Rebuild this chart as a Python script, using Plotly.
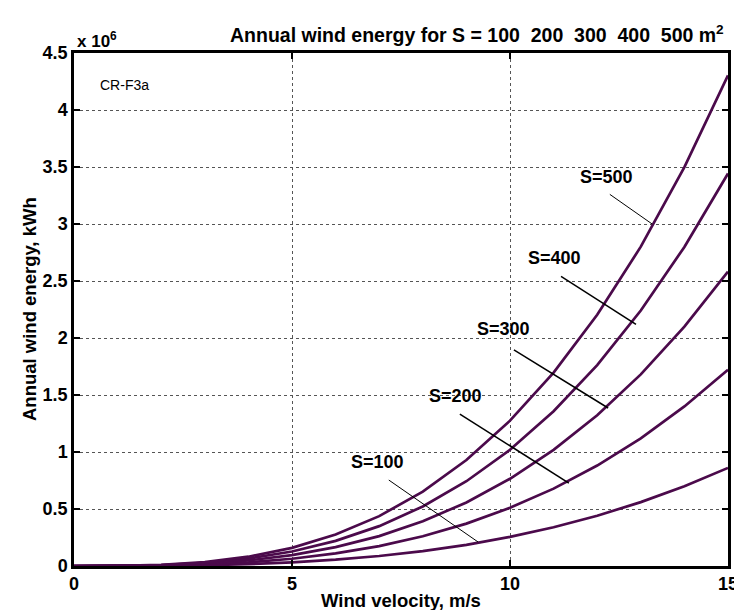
import plotly.graph_objects as go

velocity = list(range(0, 16))
areas = [100, 200, 300, 400, 500]
energy_S100 = [0, 255, 2040, 6885, 16320, 31875, 55080, 87465, 130560, 185895, 255000, 339405, 440640, 560235, 699720, 860625]
energy_S200 = [0, 510, 4080, 13770, 32640, 63750, 110160, 174930, 261120, 371790, 510000, 678810, 881280, 1120470, 1399440, 1721250]
energy_S300 = [0, 765, 6120, 20655, 48960, 95625, 165240, 262395, 391680, 557685, 765000, 1018215, 1321920, 1680705, 2099160, 2581875]
energy_S400 = [0, 1020, 8160, 27540, 65280, 127500, 220320, 349860, 522240, 743580, 1020000, 1357620, 1762560, 2240940, 2798880, 3442500]
energy_S500 = [0, 1275, 10200, 34425, 81600, 159375, 275400, 437325, 652800, 929475, 1275000, 1697025, 2203200, 2801175, 3498600, 4303125]
series = [energy_S100, energy_S200, energy_S300, energy_S400, energy_S500]

x_ticks = [0, 5, 10, 15]
y_tickvals = [0, 500000, 1000000, 1500000, 2000000, 2500000, 3000000, 3500000, 4000000, 4500000]
y_ticktext = ["0", "0.5", "1", "1.5", "2", "2.5", "3", "3.5", "4", "4.5"]

LINE = "#4B0A4B"
FONT = "Liberation Sans, Arial, Helvetica, sans-serif"

fig = go.Figure()
for s, vals in zip(areas, series):
    fig.add_trace(go.Scatter(x=velocity, y=vals, mode="lines", name=f"S={s}",
                             line=dict(color=LINE, width=2.7), showlegend=False))

# label text positions (data coords) and leader lines
labels = [
    ("S=100", 6.95, 912000, (7.22, 754000), (9.27, 210000), 1.0),
    ("S=200", 8.74, 1490000, (8.85, 1333000), (11.35, 728000), 1.5),
    ("S=300", 9.84, 2080000, (10.09, 1895000), (12.25, 1386000), 1.5),
    ("S=400", 11.01, 2700000, (11.17, 2540000), (12.89, 2120000), 1.5),
    ("S=500", 12.22, 3410000, (12.29, 3260000), (13.26, 3000000), 1.0),
]
annotations = []
shapes = []
for txt, tx, ty, p0, p1, w in labels:
    annotations.append(dict(x=tx, y=ty, xref="x", yref="y", text=txt, showarrow=False,
                            font=dict(family=FONT, size=18, color="black", weight="bold"),
                            xanchor="center", yanchor="middle"))
    shapes.append(dict(type="line", xref="x", yref="y", x0=p0[0], y0=p0[1], x1=p1[0], y1=p1[1],
                       line=dict(color="black", width=w)))

annotations += [
    dict(x=0.236, y=1.037, xref="paper", yref="paper", xanchor="left", yanchor="middle",
         text="Annual wind energy for S = 100\u00a0\u00a0200\u00a0\u00a0300\u00a0\u00a0400\u00a0\u00a0500 m<sup>2</sup>",
         showarrow=False, font=dict(family=FONT, size=19.5, color="black", weight="bold")),
    dict(x=0.0015, y=1.025, xref="paper", yref="paper", xanchor="left", yanchor="middle",
         text="x 10<sup>6</sup>", showarrow=False,
         font=dict(family=FONT, size=17, color="black", weight="bold")),
    dict(x=0.55, y=4220000, xref="x", yref="y", xanchor="left", yanchor="middle",
         text="CR-F3a", showarrow=False, font=dict(family=FONT, size=14, color="black")),
    dict(x=0.5, y=-0.068, xref="paper", yref="paper", xanchor="center", yanchor="middle",
         text="Wind velocity, m/s", showarrow=False,
         font=dict(family=FONT, size=18.5, color="black", weight="bold")),
    dict(x=-0.068, y=0.5, xref="paper", yref="paper", xanchor="center", yanchor="middle",
         text="Annual wind energy, kWh", textangle=-90, showarrow=False,
         font=dict(family=FONT, size=18.5, color="black", weight="bold")),
]

axis_common = dict(showline=True, linecolor="black", linewidth=2.5, mirror="ticks",
                   ticks="inside", ticklen=6, tickwidth=2, tickcolor="black",
                   showgrid=True, gridcolor="#555555", gridwidth=1, griddash="dot",
                   zeroline=False,
                   tickfont=dict(family=FONT, size=18, color="black", weight="bold"))

fig.update_layout(
    width=742, height=610,
    margin=dict(l=66, r=22, t=45, b=52),
    paper_bgcolor="white", plot_bgcolor="white",
    xaxis=dict(range=[0, 15], tickvals=x_ticks, **axis_common),
    yaxis=dict(range=[0, 4500000], tickvals=y_tickvals, ticktext=y_ticktext,
               ticklabelstandoff=0, **axis_common),
    annotations=annotations, shapes=shapes,
)

fig.write_html("out.html")
